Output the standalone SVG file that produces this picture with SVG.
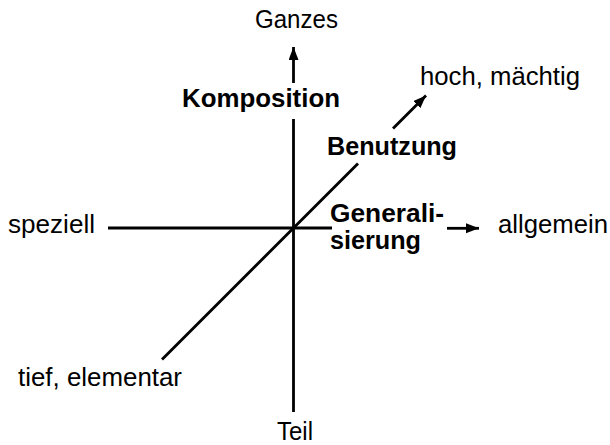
<svg xmlns="http://www.w3.org/2000/svg" width="610" height="445" viewBox="0 0 610 445">
<style>
.ax{stroke:#000;stroke-width:2.8;fill:none}
.r{font-family:"Liberation Sans",Arial,sans-serif;font-size:25px;fill:#000}
.b{font-family:"Liberation Sans",Arial,sans-serif;font-size:25px;font-weight:bold;fill:#000}
</style>
<defs>
<marker id="ah" markerUnits="userSpaceOnUse" markerWidth="14" markerHeight="12" refX="13" refY="5" orient="auto">
<path d="M0,0 L13,5 L0,10 z" fill="#000"/>
</marker>
</defs>
<rect width="610" height="445" fill="#fff"/>
<g id="connectors">
<line class="ax" x1="293.5" y1="83" x2="293.5" y2="47" marker-end="url(#ah)"/>
<line class="ax" x1="293.5" y1="119" x2="293.5" y2="412"/>
<line class="ax" x1="108" y1="228" x2="332" y2="228"/>
<line class="ax" x1="447" y1="228.3" x2="479" y2="228.3" marker-end="url(#ah)"/>
<line class="ax" x1="162" y1="359.5" x2="358" y2="163.5"/>
<line class="ax" x1="393" y1="128.5" x2="426" y2="95.5" marker-end="url(#ah)"/>
</g>
<g id="ganzes"><text class="r" x="255" y="28" textLength="83" lengthAdjust="spacingAndGlyphs">Ganzes</text></g>
<g id="teil"><text class="r" x="277" y="440" textLength="36" lengthAdjust="spacingAndGlyphs">Teil</text></g>
<g id="speziell"><text class="r" x="8" y="233" textLength="87" lengthAdjust="spacingAndGlyphs">speziell</text></g>
<g id="allgemein"><text class="r" x="498" y="233" textLength="110" lengthAdjust="spacingAndGlyphs">allgemein</text></g>
<g id="hoch"><text class="r" x="420" y="85" textLength="160" lengthAdjust="spacingAndGlyphs">hoch, mächtig</text></g>
<g id="tief"><text class="r" x="18" y="386" textLength="164" lengthAdjust="spacingAndGlyphs">tief, elementar</text></g>
<g id="komposition"><text class="b" x="182" y="107" textLength="158" lengthAdjust="spacingAndGlyphs">Komposition</text></g>
<g id="benutzung"><text class="b" x="327" y="155" textLength="130" lengthAdjust="spacingAndGlyphs">Benutzung</text></g>
<g id="generalisierung"><text class="b" x="330" y="222" textLength="114" lengthAdjust="spacingAndGlyphs">Generali-</text><text class="b" x="330" y="248.5" textLength="91" lengthAdjust="spacingAndGlyphs">sierung</text></g>
</svg>
